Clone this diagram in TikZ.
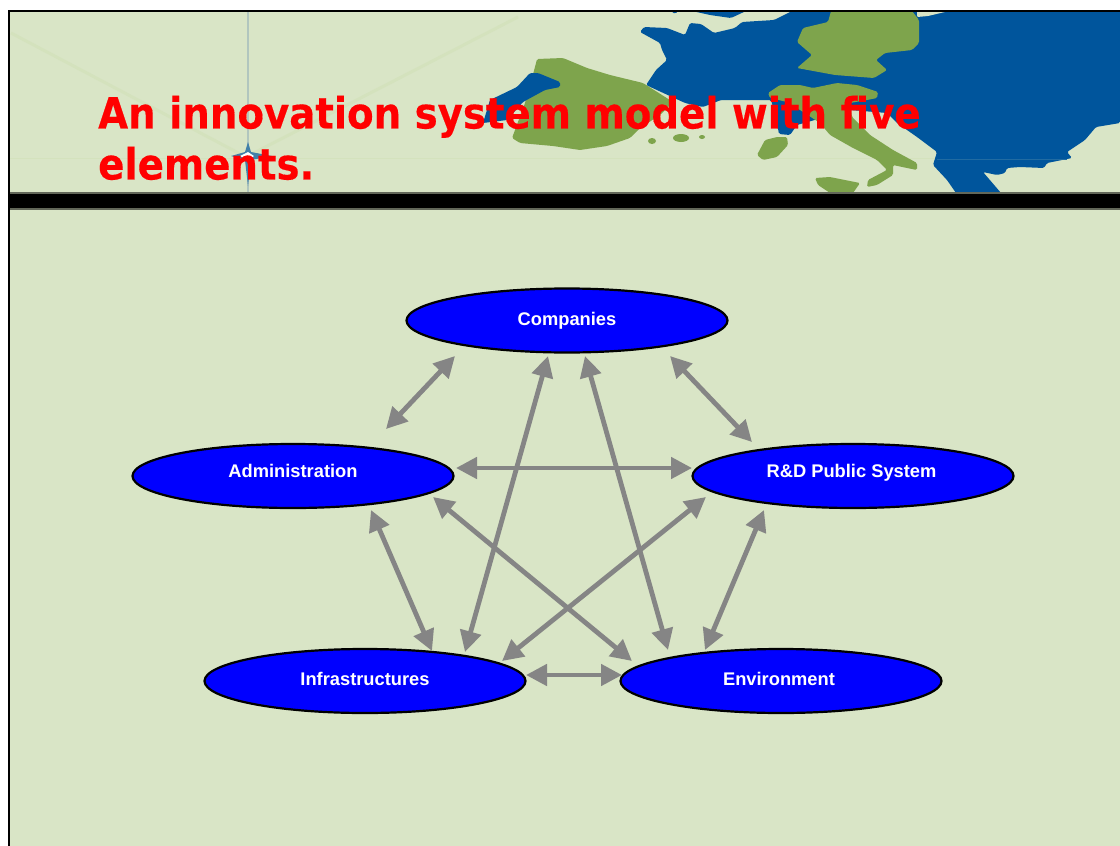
\documentclass[tikz,border=0pt]{standalone}
\usepackage{fontspec}
\setmainfont{Liberation Sans}
\newfontfamily\titlefont{DejaVu Sans Condensed}[BoldFeatures={FakeBold=0.3}]
\usetikzlibrary{shapes.geometric,arrows.meta}
\definecolor{bgc}{HTML}{D9E5C6}
\definecolor{grat}{HTML}{D4E2BD}
\definecolor{sea}{HTML}{00559C}
\definecolor{land}{HTML}{7EA44C}
\definecolor{arrc}{HTML}{858585}
\definecolor{ellc}{HTML}{0000FF}
\tikzset{
  elem/.style={ellipse,draw=black,line width=2.2pt,fill=ellc,minimum width=321pt,minimum height=64pt,inner sep=0pt,outer sep=0pt,
    text=white,font=\fontsize{18.3}{20}\selectfont\bfseries},
  link/.style={draw=arrc,line width=4.8pt,{Triangle[length=21pt,width=21pt]}-{Triangle[length=21pt,width=21pt]}},
  seashape/.style={fill=sea,rounded corners=1.5pt},
  landshape/.style={fill=land,rounded corners=1.5pt},
  paleshape/.style={fill=bgc,rounded corners=1pt},
}
\begin{document}
\begin{tikzpicture}[x=1pt,y=-1pt]
\useasboundingbox (0,0) rectangle (1120,846);
\fill[white] (0,0) rectangle (1120,846);
\fill[bgc] (9,11) rectangle (1120,846);
\begin{scope}
\clip (9,11) rectangle (1120,193);
% faint graticule
\draw[line width=3pt,color=grat] (11,33) -- (246,157) -- (518,17);
\draw[line width=1pt,color=grat] (10,158) -- (937,158);
\draw[line width=2pt,color=cyan!50!black!25!bgc] (248,11) -- (248,193);
% star
\fill[sea!70!bgc] (248,142) -- (251,152) -- (272,156) -- (251,160) -- (248,186) -- (245,160) -- (231,156) -- (245,152) -- cycle;
\fill[white] (248,152) -- (254,156) -- (248,160) -- (240,156) -- cycle;
% main sea
\path[seashape] (640,32) -- (644,27) -- (667,28) -- (685,35) -- (690,23) -- (701,24) -- (714,33) -- (735,28) -- (742,22) -- (774,20) -- (792,11)
 -- (1120,11) -- (1120,123) -- (1096,127) -- (1085,140) -- (1067,152) -- (1072,158) -- (1047,163) -- (1044,168) -- (1020,167) -- (1007,168) -- (1005,173) -- (997,175) -- (983,172) -- (1001,193)
 -- (956,193) -- (947,180) -- (933,165) -- (937,152) -- (917,137) -- (897,123) -- (887,113) -- (850,110) -- (797,125) -- (790,135) -- (779,134) -- (776,118) -- (771,100)
 -- (746,100) -- (721,100) -- (703,107) -- (685,103) -- (646,85) -- (656,70) -- (667,60) -- (662,50) -- (660,43) -- cycle;
\draw[line width=.8pt,color=sea!85!bgc] (937,159) -- (1067,159);
\path[seashape] (692,11) -- (746,11) -- (731,18) -- (710,15) -- cycle;
\path[seashape] (671,11) -- (678,11) -- (675,14) -- cycle;
\path[paleshape] (917,11) -- (949,11) -- (928,16) -- (917,17) -- cycle;
% Germany
\path[landshape] (831,11) -- (912,11) -- (919,20) -- (919,43) -- (912,50) -- (885,53) -- (876,60) -- (887,70) -- (874,78) -- (835,75) -- (797,68) -- (812,55) -- (797,42) -- (803,28) -- (828,22) -- cycle;
% Italy
\path[landshape] (768,93) -- (780,85) -- (800,85) -- (813,88) -- (837,83) -- (857,85) -- (878,92) -- (877,98) -- (867,100) -- (850,103) -- (852,117) -- (870,135) -- (893,150) -- (917,163) -- (917,170) -- (907,168) -- (893,165) -- (893,175) -- (877,185) -- (867,187) -- (868,180) -- (887,170) -- (877,160) -- (853,148) -- (830,135) -- (820,123) -- (800,110) -- (787,102) -- (770,98) -- cycle;
% Sardinia, Sicily
\path[landshape] (787,137) -- (788,145) -- (777,157) -- (763,160) -- (757,155) -- (765,140) -- (777,137) -- cycle;
\path[landshape] (815,178) -- (830,177) -- (860,183) -- (853,193) -- (830,193) -- (818,185) -- cycle;
% Iberia
\path[landshape] (537,59) -- (563,58) -- (587,68) -- (610,75) -- (643,83) -- (673,102) -- (660,115) -- (640,128) -- (630,138) -- (607,146) -- (580,150) -- (553,146) -- (520,143) -- (512,138) -- (515,130) -- (525,103) -- (535,67) -- cycle;
\path[seashape] (538,73) -- (560,82) -- (560,87) -- (545,90) -- (523,102) -- (507,120) -- (483,123) -- (490,100) -- (517,87) -- (530,73) -- cycle;
\fill[land] (681,138) ellipse [x radius=8pt,y radius=4pt];
\fill[land] (652,141) ellipse [x radius=4pt,y radius=3pt];
\fill[land] (702,137) ellipse [x radius=3pt,y radius=2pt];
\end{scope}
% frame and bar
\fill[black] (8,10) rectangle (1120,12);
\fill[black] (8,10) rectangle (10,846);
\fill[black!55!bgc] (10,192) rectangle (1120,210);
\fill[black] (10,193.5) rectangle (1120,208);
% title
\node[anchor=north west,inner sep=0pt,text=red,align=left,font=\titlefont\bfseries\fontsize{43}{51}\selectfont] (title) at (98,95.6) {An innovation system model with five\\elements.};
% nodes
\node[elem] (comp) at (567,320.5) {\raisebox{4pt}{Companies}};
\node[elem] (adm) at (293,476) {\raisebox{10pt}{Administration}};
\node[elem] (rd) at (853,476) {\raisebox{10pt}{R\&D Public System}\kern3pt};
\node[elem] (inf) at (365,681) {\raisebox{5pt}{Infrastructures}};
\node[elem] (env) at (781,681) {\raisebox{5pt}{Environment}\kern4pt};
% connectors
\draw[link] ([shift={(-112,35.5)}]comp.center) -- ([shift={(93,-47)}]adm.center);
\draw[link] ([shift={(103,35.5)}]comp.center) -- ([shift={(-101,-34)}]rd.center);
\draw[link] ([shift={(-19,35.5)}]comp.center) -- ([shift={(100,-29)}]inf.center);
\draw[link] ([shift={(18,35.5)}]comp.center) -- ([shift={(-113,-31)}]env.center);
\draw[link] ([shift={(163,-8)}]adm.center) -- ([shift={(-161,-8)}]rd.center);
\draw[link] ([shift={(140,21)}]adm.center) -- ([shift={(-149,-20)}]env.center);
\draw[link] ([shift={(78,34)}]adm.center) -- ([shift={(67,-30)}]inf.center);
\draw[link] ([shift={(-147,21)}]rd.center) -- ([shift={(137,-20)}]inf.center);
\draw[link] ([shift={(-89,34)}]rd.center) -- ([shift={(-76,-31)}]env.center);
\draw[link] ([shift={(161,-6)}]inf.center) -- ([shift={(-159,-6)}]env.center);
\end{tikzpicture}
\end{document}
